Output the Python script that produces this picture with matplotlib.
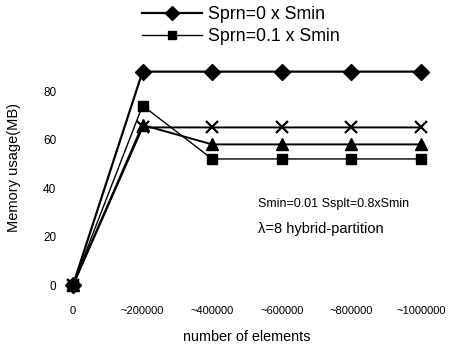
import matplotlib
matplotlib.use("Agg")
from matplotlib import pyplot as plt

plt.rcParams['font.family'] = ['Liberation Sans', 'DejaVu Sans']

# Data
x_labels = ["0", "~200000", "~400000", "~600000", "~800000", "~1000000"]
sprn_0 = [0, 88, 88, 88, 88, 88]      # diamond
sprn_01 = [0, 74, 52, 52, 52, 52]     # square
series_x = [0, 65, 65, 65, 65, 65]    # cross
series_tri = [0, 66, 58, 58, 58, 58]  # triangle
y_ticks = [0, 20, 40, 60, 80]

xs = list(range(len(x_labels)))

fig = plt.figure(figsize=(4.51, 3.46), dpi=100)
ax = fig.add_axes([0.131, 0.155, 0.833, 0.666])

# Draw lines
l1, = ax.plot(xs, sprn_0, color='black', lw=1.6, marker='D', ms=8,
              clip_on=False, zorder=5)
l2, = ax.plot(xs, sprn_01, color='black', lw=1.0, marker='s', ms=7.5,
              clip_on=False, zorder=4)
ax.plot(xs, series_x, color='black', lw=1.4, marker='x', ms=9, mew=1.6,
        clip_on=False, zorder=3)
ax.plot(xs, series_tri, color='black', lw=1.4, marker='^', ms=8,
        clip_on=False, zorder=3)

# Axes
ax.set_xlim(-0.2, 5.2)
ax.set_ylim(-3, 92)
ax.set_xticks(xs)
ax.set_xticklabels(x_labels, fontsize=8)
ax.set_yticks(y_ticks)
ax.set_yticklabels([str(v) for v in y_ticks], fontsize=8.5)
ax.tick_params(axis='both', length=0)
ax.tick_params(axis='x', pad=10)
ax.tick_params(axis='y', pad=2)
for s in ax.spines.values():
    s.set_visible(False)

# Labels
ax.set_xlabel("number of elements", fontsize=10.4, labelpad=10)
fig.text(14 / 451, 1 - 167 / 346, "Memory usage(MB)", rotation=90,
         fontsize=10.5, ha='center', va='center')

# Annotations
fig.text(258 / 451, 1 - 204 / 346, "Smin=0.01 Ssplt=0.8xSmin",
         fontsize=9, ha='left', va='center')
fig.text(258 / 451, 1 - 229 / 346, "\u03bb=8 hybrid-partition",
         fontsize=10.5, ha='left', va='center')

# Legend
fig.legend([l1, l2], ["Sprn=0 x Smin", "Sprn=0.1 x Smin"],
           loc='upper left', bbox_to_anchor=(142 / 451, 1 - 6 / 346),
           frameon=False, fontsize=12.8, handlelength=3.4,
           handletextpad=0.3, labelspacing=0.3, borderpad=0,
           borderaxespad=0, markerscale=0.85)

fig.savefig("out.png", dpi=100)
